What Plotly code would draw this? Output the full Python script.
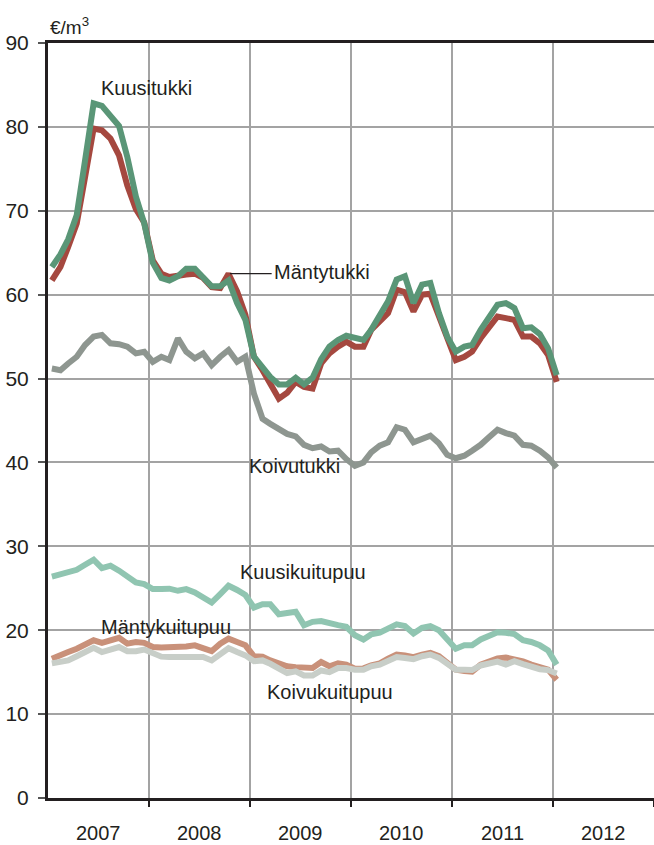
import plotly.graph_objects as go

# ---- data (€/m3, monthly Jan 2007 - Jan 2012) ----
months = [f"{2007 + m // 12}-{m % 12 + 1:02d}-15" for m in range(61)]

kuusitukki = [63.3, 64.8, 66.6, 69.5, 76.0, 82.8, 82.5, 81.4, 80.1, 76.4,
              71.7, 68.5, 63.8, 62.0, 61.7, 62.2, 63.1, 63.1, 62.0, 61.0,
              61.0, 61.7, 59.0, 57.0, 52.6, 51.3, 50.2, 49.3, 49.3, 50.1,
              49.3, 50.1, 52.3, 53.8, 54.6, 55.1, 54.8, 54.6, 55.8, 57.5,
              59.2, 61.8, 62.2, 59.0, 61.2, 61.4, 57.8, 55.0, 53.2, 53.8,
              54.0, 55.8, 57.2, 58.8, 59.0, 58.4, 56.0, 56.1, 55.3, 53.6, 50.4]
mantytukki = [61.7, 63.3, 65.7, 68.5, 74.0, 79.8, 79.6, 78.6, 76.6, 73.0,
              70.2, 68.6, 64.1, 62.5, 62.1, 62.3, 62.4, 62.5, 62.0, 60.9,
              60.8, 62.5, 60.4, 57.6, 52.6, 51.0, 49.3, 47.6, 48.3, 49.6,
              49.0, 48.8, 51.8, 53.0, 53.8, 54.4, 53.8, 53.8, 55.8, 56.8,
              57.8, 60.6, 60.3, 58.0, 60.0, 60.1, 57.5, 54.6, 52.2, 52.6,
              53.2, 54.8, 56.2, 57.4, 57.2, 57.0, 55.0, 55.0, 54.2, 52.8, 49.6]
koivutukki = [51.2, 51.0, 51.8, 52.6, 54.0, 55.0, 55.2, 54.2, 54.1, 53.8,
              53.0, 53.2, 52.0, 52.6, 52.2, 54.8, 53.2, 52.4, 53.0, 51.6,
              52.6, 53.4, 52.0, 52.6, 48.2, 45.2, 44.6, 44.0, 43.4, 43.1,
              42.1, 41.7, 41.9, 41.3, 41.4, 40.4, 39.6, 40.0, 41.2, 42.0,
              42.4, 44.2, 43.9, 42.4, 42.9, 43.2, 42.3, 40.9, 40.5, 40.8,
              41.4, 42.1, 43.0, 43.9, 43.5, 43.2, 42.1, 42.0, 41.4, 40.6, 39.4]
kuusikuitupuu = [26.4, 26.7, 27.0, 27.2, 27.8, 28.4, 27.4, 27.7, 27.1, 26.3,
                 25.7, 25.5, 24.9, 24.9, 24.95, 24.7, 24.9, 24.5, 23.9, 23.3,
                 24.3, 25.3, 24.8, 24.2, 22.7, 23.1, 23.1, 21.9, 22.05, 22.2,
                 20.6, 21.0, 21.1, 20.8, 20.6, 20.4, 19.4, 18.9, 19.5, 19.7,
                 20.2, 20.7, 20.5, 19.6, 20.3, 20.5, 20.0, 18.8, 17.8, 18.2,
                 18.2, 18.9, 19.3, 19.75, 19.7, 19.55, 18.8, 18.6, 18.2, 17.6, 15.9]
mantykuitupuu = [16.6, 17.1, 17.4, 17.8, 18.3, 18.8, 18.5, 18.8, 19.1, 18.4,
                 18.6, 18.5, 18.0, 17.95, 17.95, 18.0, 18.05, 18.2, 17.9, 17.5,
                 18.4, 19.0, 18.6, 18.2, 16.9, 16.85, 16.4, 16.1, 15.7, 15.6,
                 15.5, 15.5, 16.2, 15.7, 16.05, 15.9, 15.4, 15.45, 15.8, 16.05,
                 16.6, 17.1, 17.0, 16.8, 17.1, 17.3, 16.9, 16.2, 15.3, 15.15,
                 15.05, 15.9, 16.3, 16.65, 16.75, 16.6, 16.3, 15.9, 15.55, 15.3, 14.1]
koivukuitupuu = [16.05, 16.2, 16.4, 16.9, 17.3, 17.9, 17.4, 17.7, 18.0, 17.5,
                 17.5, 17.7, 17.2, 16.85, 16.8, 16.8, 16.85, 16.9, 16.8, 16.4,
                 17.2, 17.85, 17.4, 17.0, 16.3, 16.4, 16.0, 15.4, 14.9, 15.1,
                 14.6, 14.6, 15.2, 15.0, 15.5, 15.5, 15.3, 15.3, 15.7, 15.9,
                 16.4, 16.8, 16.7, 16.55, 16.9, 17.1, 16.7, 16.1, 15.3, 15.3,
                 15.25, 15.8, 16.1, 16.25, 15.9, 16.3, 15.95, 15.6, 15.35, 15.25, 14.85]

years = ["2007", "2008", "2009", "2010", "2011", "2012"]
y_ticks = [0, 10, 20, 30, 40, 50, 60, 70, 80, 90]

FONT = "Liberation Sans, Arial, sans-serif"
TXT = "#231f20"

series = [
    ("Koivukuitupuu", koivukuitupuu, "#c8cec8"),
    ("Mäntykuitupuu", mantykuitupuu, "#c9917a"),
    ("Kuusikuitupuu", kuusikuitupuu, "#90c5b1"),
    ("Koivutukki", koivutukki, "#8e9690"),
    ("Mäntytukki", mantytukki, "#a5483f"),
    ("Kuusitukki", kuusitukki, "#5a9677"),
]

fig = go.Figure()
order = [1, 0, 2, 3, 4, 5]
for i in order:
    name, vals, col = series[i]
    fig.add_trace(go.Scatter(x=months, y=vals, mode="lines", name=name,
                             line=dict(color=col, width=6),
                             hoverinfo="skip"))

labels = [
    ("Kuusitukki", "2007-12-25", 84.6, "center"),
    ("Mäntytukki", "2009-03-22", 62.7, "left"),
    ("Koivutukki", "2008-12-20", 39.6, "left"),
    ("Kuusikuitupuu", "2008-11-20", 26.9, "left"),
    ("Mäntykuitupuu", "2007-07-03", 20.4, "left"),
    ("Koivukuitupuu", "2009-02-25", 12.6, "left"),
]
annotations = []
for txt, xv, yv, anc in labels:
    annotations.append(dict(text=txt, x=xv, y=yv, xref="x", yref="y",
                            xanchor=anc, yanchor="middle", showarrow=False,
                            font=dict(family=FONT, size=20, color=TXT)))
for yr in years:
    annotations.append(dict(text=yr, x=f"{yr}-07-02", y=-0.047, xref="x", yref="paper",
                            xanchor="center", yanchor="middle", showarrow=False,
                            font=dict(family=FONT, size=20, color=TXT)))
annotations.append(dict(text="€/m<sup>3</sup>", x=0.0, y=1.0, xref="paper", yref="paper",
                        xanchor="left", yanchor="bottom", yshift=3, showarrow=False,
                        font=dict(family=FONT, size=19, color=TXT)))

fig.update_layout(
    width=654, height=845,
    margin=dict(l=48, r=0, t=43, b=47),
    paper_bgcolor="white", plot_bgcolor="white",
    showlegend=False,
    annotations=annotations,
    shapes=[dict(type="line", xref="x", yref="y",
                 x0="2008-10-20", y0=62.5, x1="2009-03-20", y1=62.5,
                 line=dict(color="#231f20", width=1.3))],
    xaxis=dict(type="date", range=["2007-01-01", "2013-01-01"],
               tickvals=[f"{int(y)+1}-01-01" for y in years],
               showticklabels=False,
               ticks="outside", ticklen=6, tickwidth=1.5, tickcolor="#231f20",
               showgrid=True, gridcolor="#a3a3a3", gridwidth=1.5,
               showline=True, linecolor="#231f20", linewidth=3, mirror=True,
               zeroline=False, fixedrange=True),
    yaxis=dict(range=[0, 90], tickvals=y_ticks,
               ticktext=[str(v) for v in y_ticks],
               ticks="outside", ticklen=7, tickwidth=1.5, tickcolor="#555555",
               ticklabelstandoff=5,
               tickfont=dict(family=FONT, size=21, color=TXT),
               showgrid=True, gridcolor="#a3a3a3", gridwidth=1.5,
               showline=True, linecolor="#231f20", linewidth=3,
               zeroline=False, fixedrange=True),
)

fig.write_html("out.html", config={"displayModeBar": False},
               post_script="document.body.style.margin='0';document.body.style.padding='0';")
